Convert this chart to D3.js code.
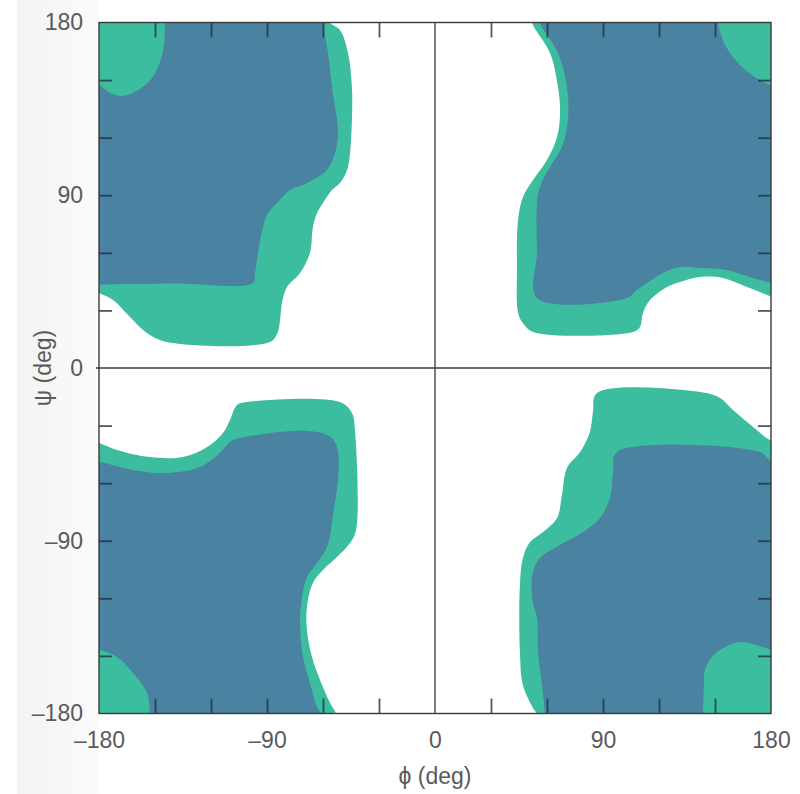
<!DOCTYPE html>
<html>
<head>
<meta charset="utf-8">
<script src="https://cdn.jsdelivr.net/npm/d3@7"></script>
<style>
  html, body { margin: 0; padding: 0; background: #fff; }
  svg { display: block; }
</style>
</head>
<body>
<div id="chart"></div>
<script>
// tick values (deg)
const labelTicks = [-180, -90, 0, 90, 180];
const minorTicks = [-150, -120, -90, -60, -30, 30, 60, 90, 120, 150];

// allowed regions, [phi, psi] in degrees
// outer (teal) regions
const tealTopLeft = [[-185, 185], [-56.2, 185], [-56.2, 180], [-50.9, 176.1], [-46.6, 164.1], [-44.5, 146.4],
  [-44.5, 129.2], [-45.5, 112], [-47.1, 103.2], [-50.9, 96.4], [-55.2, 92.7], [-60, 86], [-63.2, 80.7],
  [-65.4, 73.5], [-67, 59.9], [-72.3, 49.5], [-79.3, 42.2], [-82, 33.9], [-83, 25], [-84.4, 18.2],
  [-88.4, 13.5], [-143.6, 13.5], [-154.3, 18.2], [-163.4, 26.6], [-172.5, 35.4], [-180, 39.1], [-185, 41]];
const tealTopRight = [[52, 185], [52, 180], [61.6, 164.1], [65.9, 146.4], [67, 132.9], [65.4, 120.4],
  [60, 108.4], [52.5, 97.9], [47.1, 89.1], [44.5, 77.1], [43.9, 51.1], [44.5, 28.7], [47.1, 23.4],
  [52.5, 18.8], [106.1, 18.8], [109.8, 21.4], [111.4, 28.7], [115.2, 35.4], [124.3, 42.2], [131.3, 44.8],
  [141.9, 47.4], [154.3, 46.9], [167.1, 42.2], [180.5, 37], [185, 35], [185, 185]];
const tealBottomLeft = [[-185, -38], [-180, -39.1], [-170.4, -42.7], [-152.7, -46.4], [-135, -46.4],
  [-122.1, -41.2], [-113.6, -33.9], [-109.8, -27.1], [-106.1, -19.3], [-100.7, -17.7], [-50.9, -17.7],
  [-44.5, -23.4], [-42.9, -32.3], [-42.3, -84.4], [-45.5, -91.2], [-52.5, -98.5], [-60, -105.2],
  [-65.4, -112], [-68.6, -124.5], [-68.6, -136.5], [-65.9, -150.6], [-61.6, -162.5], [-56.2, -174.5],
  [-53, -180], [-52, -185], [-185, -185]];
const tealBottomRight = [[86.8, -13], [141.9, -12.5], [152.7, -15.6], [159.6, -21.9], [170.4, -30.7],
  [179.5, -37.5], [185, -39], [185, -185], [56, -185], [54.6, -180], [52.5, -177.1], [47.1, -165.2],
  [45.5, -148], [45.5, -113.1], [47.1, -99], [50.9, -90.7], [57.9, -85.4], [65.4, -78.1], [68, -66.2],
  [70.7, -52.1], [77.7, -43.8], [83, -33.3], [84.6, -22.9]];

// inner (blue) regions
const blueTopLeft = [[-185, 185], [-60, 185], [-60, 180], [-57.3, 164.1], [-55.2, 146.4], [-52.5, 129.2],
  [-52, 120.4], [-53.6, 112], [-57.9, 103.2], [-68.6, 96.4], [-77.7, 92.7], [-84.6, 86], [-89.5, 80.7],
  [-92.1, 73.5], [-94.8, 59.9], [-96.4, 49.5], [-97.5, 44.3], [-140, 44], [-180, 43.5], [-185, 43.5]];
const blueTopRight = [[56.2, 185], [56.2, 180], [65.9, 164.1], [70.7, 146.4], [71.2, 129.2], [68, 115.1],
  [61.6, 104.7], [56.2, 94.3], [54.6, 86], [54.6, 60], [54.6, 36.5], [102.9, 36.5], [108.2, 40.6],
  [113.6, 44.3], [122.1, 49.5], [131.3, 52.6], [141.9, 52.1], [156.4, 51.1], [168.7, 47.4], [180.5, 44.3],
  [185, 44], [185, 185]];
const blueBottomLeft = [[-185, -49], [-180, -49], [-161.8, -53.1], [-143.6, -54.7], [-125.9, -51.6],
  [-115.2, -44.3], [-109.8, -38.6], [-104.5, -36.5], [-55.2, -36.5], [-55.2, -80.8], [-57.9, -93.3],
  [-63.2, -101.6], [-68.6, -108.9], [-71.2, -119.3], [-72.3, -132.9], [-70.7, -150.6], [-67, -164.1],
  [-63.2, -176.6], [-61, -180], [-60, -185], [-185, -185]];
const blueBottomRight = [[97.5, -43.8], [174.1, -43.8], [179.5, -47.9], [185, -48], [185, -185], [59, -185],
  [58.9, -180], [57.3, -165.2], [55.2, -148], [54.6, -130.3], [52, -119.8], [52.5, -106.3], [56.2, -99],
  [67, -92.2], [79.3, -85.4], [88.4, -78.1], [93.7, -67.7], [95.4, -54.2]];

// teal patches in the four corners
const blobTopLeft = [[-185, 185], [-144.6, 185], [-144.6, 180], [-145.2, 168.3], [-147.3, 159.4],
  [-151.6, 151.1], [-159.1, 144.8], [-167.7, 141.7], [-175, 143.8], [-180, 147.4], [-185, 148]];
const blobTopRight = [[151.6, 185], [151.6, 180], [155.4, 168.3], [163.4, 157.9], [174.1, 150],
  [180, 147.4], [185, 146], [185, 185]];
const blobBottomLeft = [[-185, -146.9], [-180, -146.9], [-170.4, -150.6], [-161.8, -158.9],
  [-154.3, -169.3], [-152.7, -180], [-152.7, -185], [-185, -185]];
const blobBottomRight = [[143.6, -185], [143.6, -180], [144, -168], [144.6, -157.3], [148, -151],
  [152.7, -146.9], [163.4, -142.8], [175.7, -145.4], [180, -146.9], [185, -148], [185, -185]];

const teal = "#3dbd9f";
const blue = "#4a82a1";

const margin = { top: 22.5, right: 29, bottom: 80.5, left: 99 };
const width = 800 - margin.left - margin.right;
const height = 794 - margin.top - margin.bottom;

const root = d3.select("#chart")
  .append("svg")
  .attr("width", 800)
  .attr("height", 794);

// scanned page edge on the left
const grad = root.append("defs").append("linearGradient")
  .attr("id", "edge").attr("x1", "0").attr("x2", "1");
grad.append("stop").attr("offset", "0").attr("stop-color", "#f3f3f3");
grad.append("stop").attr("offset", "1").attr("stop-color", "#fbfbfb");
root.append("rect")
  .attr("x", 17).attr("y", 0).attr("width", margin.left - 17).attr("height", 794)
  .attr("fill", "url(#edge)");

root.select("defs").append("clipPath").attr("id", "plot-clip")
  .append("rect").attr("width", width).attr("height", height);

const svg = root.append("g")
  .attr("transform", `translate(${margin.left},${margin.top})`);

// Scales
const x = d3.scaleLinear().domain([-180, 180]).range([0, width]);
const y = d3.scaleLinear().domain([-180, 180]).range([height, 0]);

const area = d3.line()
  .x(d => x(d[0]))
  .y(d => y(d[1]))
  .curve(d3.curveCatmullRomClosed.alpha(0.5));

const regions = svg.append("g").attr("clip-path", "url(#plot-clip)");

regions.selectAll("path.outer")
  .data([tealTopLeft, tealTopRight, tealBottomLeft, tealBottomRight])
  .join("path")
  .attr("class", "outer")
  .attr("d", area)
  .attr("fill", teal);

regions.selectAll("path.inner")
  .data([blueTopLeft, blueTopRight, blueBottomLeft, blueBottomRight])
  .join("path")
  .attr("class", "inner")
  .attr("d", area)
  .attr("fill", blue);

regions.selectAll("path.corner")
  .data([blobTopLeft, blobTopRight, blobBottomLeft, blobBottomRight])
  .join("path")
  .attr("class", "corner")
  .attr("d", area)
  .attr("fill", teal);

// zero lines
svg.append("line")
  .attr("x1", x(0)).attr("x2", x(0))
  .attr("y1", 0).attr("y2", height)
  .attr("stroke", "#3a3a3a").attr("stroke-width", 1.3);
svg.append("line")
  .attr("x1", -3).attr("x2", width)
  .attr("y1", y(0)).attr("y2", y(0))
  .attr("stroke", "#3a3a3a").attr("stroke-width", 1.3);

// inner ticks on all four sides
const tickStyle = g => {
  g.select(".domain").remove();
  g.selectAll(".tick line")
    .attr("stroke", "#1f3142")
    .attr("stroke-width", 1.8)
    .attr("opacity", 0.8);
};
svg.append("g").call(d3.axisTop(x).tickValues(minorTicks).tickSize(-15).tickFormat("")).call(tickStyle);
svg.append("g").attr("transform", `translate(0,${height})`)
  .call(d3.axisBottom(x).tickValues(minorTicks).tickSize(-15).tickFormat("")).call(tickStyle);
svg.append("g").call(d3.axisLeft(y).tickValues(minorTicks).tickSize(-13).tickFormat("")).call(tickStyle);
svg.append("g").attr("transform", `translate(${width},0)`)
  .call(d3.axisRight(y).tickValues(minorTicks).tickSize(-13).tickFormat("")).call(tickStyle);

// frame
svg.append("rect")
  .attr("width", width).attr("height", height)
  .attr("fill", "none")
  .attr("stroke", "#3a3a3a")
  .attr("stroke-width", 1.4);

// tick labels
const fmt = d => d < 0 ? "\u2013" + Math.abs(d) : String(d);
const labelStyle = g => {
  g.select(".domain").remove();
  g.selectAll(".tick line").remove();
  g.selectAll(".tick text")
    .attr("fill", "#5a5a5a")
    .style("font", "23px 'Liberation Sans', Arial, sans-serif");
};
svg.append("g")
  .call(d3.axisLeft(y).tickValues(labelTicks).tickSize(0).tickPadding(16).tickFormat(fmt))
  .call(labelStyle);
svg.append("g").attr("transform", `translate(0,${height})`)
  .call(d3.axisBottom(x).tickValues(labelTicks).tickSize(0).tickPadding(18).tickFormat(fmt))
  .call(labelStyle);

// Labels
svg.append("text")
  .attr("x", x(0))
  .attr("y", height + 70)
  .attr("text-anchor", "middle")
  .attr("fill", "#5a5a5a")
  .style("font", "23px 'Liberation Sans', Arial, sans-serif")
  .text("\u03d5 (deg)");

svg.append("text")
  .attr("transform", "rotate(-90)")
  .attr("x", -y(0))
  .attr("y", -48)
  .attr("text-anchor", "middle")
  .attr("fill", "#5a5a5a")
  .style("font", "23px 'Liberation Sans', Arial, sans-serif")
  .text("\u03c8 (deg)");
</script>
</body>
</html>
